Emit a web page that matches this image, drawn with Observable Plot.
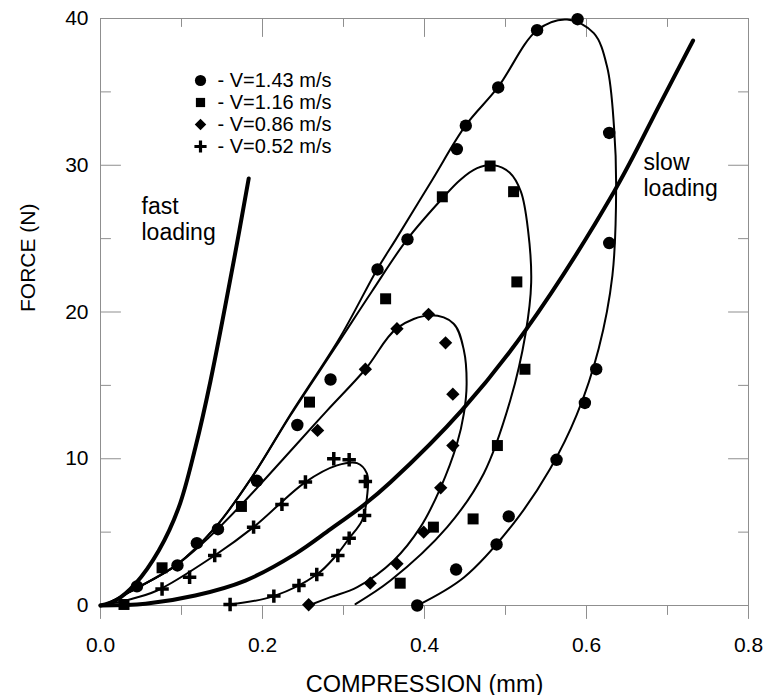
<!DOCTYPE html>
<html><head><meta charset="utf-8">
<script src="https://cdn.jsdelivr.net/npm/d3@7"></script>
<script src="https://cdn.jsdelivr.net/npm/@observablehq/plot@0.6"></script>
<style>html,body{margin:0;padding:0;background:#fff}#chart{width:765px;height:695px}</style>
</head><body><div id="chart"></div>
<script>
// ---------- data ----------
const seriesLabels = ["- V=1.43 m/s", "- V=1.16 m/s", "- V=0.86 m/s", "- V=0.52 m/s"];

// measured points
const v143X = [0.045,0.095,0.119,0.145,0.193,0.243,0.284,0.342,0.379,0.440,0.451,0.491,0.539,0.589,0.628,0.628,0.612,0.598,0.563,0.504,0.489,0.439,0.391];
const v143Y = [1.3,2.73,4.25,5.2,8.5,12.3,15.4,22.9,24.95,31.1,32.7,35.3,39.2,39.95,32.2,24.7,16.1,13.8,9.93,6.07,4.16,2.45,0.0];
const v116X = [0.029,0.076,0.174,0.258,0.352,0.422,0.481,0.510,0.514,0.524,0.490,0.460,0.411,0.370];
const v116Y = [0.07,2.57,6.75,13.86,20.9,27.85,29.95,28.2,22.05,16.1,10.9,5.9,5.34,1.52];
const v086X = [0.257,0.333,0.366,0.399,0.420,0.435,0.435,0.426,0.405,0.366,0.327,0.268];
const v086Y = [0.05,1.52,2.84,5.0,8.02,10.9,14.4,17.9,19.84,18.86,16.1,11.93];
const v052X = [0.076,0.110,0.141,0.189,0.224,0.253,0.288,0.307,0.327,0.326,0.307,0.293,0.267,0.245,0.214,0.160];
const v052Y = [1.13,1.93,3.41,5.34,6.89,8.41,10.0,9.93,8.45,6.14,4.59,3.41,2.11,1.36,0.64,0.07];

// fitted hysteresis loops
const loop143X = [0,0.006,0.043,0.093,0.142,0.187,0.235,0.296,0.3415,0.3646,0.4095,0.4506,0.4905,0.539,0.576,0.609,0.6255,0.634,0.6366,0.632,0.615,0.588,0.555,0.510,0.449,0.391];
const loop143Y = [0,0.07,1.14,2.73,5.34,8.75,13.07,18.3,22.9,24.95,29.0,32.7,35.3,39.2,39.93,39.0,36.7,32.6,28.5,22.5,17.5,13.0,9.3,5.6,1.93,0];
const loop116X = [0,0.006,0.043,0.093,0.142,0.187,0.235,0.29,0.335,0.3786,0.423,0.444,0.465,0.4856,0.505,0.519,0.528,0.5317,0.5247,0.506,0.4732,0.428,0.358,0.3148];
const loop116Y = [0,0.07,1.14,2.73,5.34,8.75,13.0,17.6,21.4,24.95,27.8,29.0,29.8,30.0,29.5,28.2,25.5,22.0,18.5,14.0,9.0,5.34,1.7,0.1];
const loop086X = [0,0.006,0.043,0.093,0.135,0.175,0.2407,0.28,0.327,0.366,0.4074,0.436,0.4486,0.452,0.4486,0.440,0.4198,0.395,0.362,0.317,0.284,0.257];
const loop086Y = [0,0.07,1.14,2.73,4.7,6.93,10.9,13.3,16.1,18.9,19.77,19.2,17.4,15.1,13.07,11.0,8.02,5.34,3.07,1.25,0.57,0];
const loop052X = [0,0.035,0.070,0.141,0.189,0.253,0.292,0.3168,0.329,0.329,0.323,0.3066,0.29,0.267,0.214,0.160];
const loop052Y = [0,0.4,1.02,3.41,5.34,8.41,9.55,9.7,8.98,7.39,5.8,4.55,3.35,2.11,0.64,0.07];

// loading curves
const fastX = [0,0.0185,0.043,0.072,0.0967,0.1173,0.1358,0.1646,0.183];
const fastY = [0,0.34,1.48,3.75,6.7,10.8,15.3,23.5,29.1];
const slowX = [0,0.0556,0.117,0.179,0.2407,0.284,0.325,0.358,0.446,0.5247,0.634,0.691,0.7316];
const slowY = [0,0.12,0.68,1.7,3.52,5.2,6.85,8.4,13.3,18.75,28.2,34.2,38.5];

// axis ticks
const xMajor = [0,0.2,0.4,0.6,0.8];
const xMinor = [0.1,0.3,0.5,0.7];
const yMajor = [0,10,20,30,40];
const yMinor = [5,15,25,35];
const xTitle = "COMPRESSION (mm)";
const yTitle = "FORCE (N)";
const fastLabel = "fast\nloading";
const slowLabel = "slow\nloading";

// ---------- build ----------
const pts = (xs, ys) => xs.map((x, i) => ({x, y: ys[i]}));
const tickShape = {draw(ctx, l) { ctx.moveTo(0, 0); ctx.lineTo(0, -l); }};
const gray = "#8f8f8f";
const tickMarks = (vals, anchor, rotate, len) =>
  Plot.vector(vals, {
    [anchor === "top" || anchor === "bottom" ? "x" : "y"]: d => d,
    frameAnchor: anchor, rotate, length: len, anchor: "start",
    shape: tickShape, stroke: gray, strokeWidth: 1
  });

const symbolSpecs = [
  {symbol: "circle", r: 6.2, fill: "black"},
  {symbol: "square", r: 6.2, fill: "black"},
  {symbol: "diamond2", r: 6, fill: "black"},
  {symbol: "plus", r: 4.4, fill: "none", stroke: "black", strokeWidth: 3.5}
];
const legendSpecs = [
  {symbol: "circle", r: 5.6, fill: "black"},
  {symbol: "square", r: 5.2, fill: "black"},
  {symbol: "diamond2", r: 5.2, fill: "black"},
  {symbol: "plus", r: 4.0, fill: "none", stroke: "black", strokeWidth: 3.2}
];
const measured = [pts(v143X, v143Y), pts(v116X, v116Y), pts(v086X, v086Y), pts(v052X, v052Y)];
const loops = [pts(loop143X, loop143Y), pts(loop116X, loop116Y), pts(loop086X, loop086Y), pts(loop052X, loop052Y)];

const marks = [
  Plot.frame({stroke: gray, strokeWidth: 1}),
  tickMarks(xMajor, "bottom", 180, 13),
  tickMarks(xMinor, "bottom", 180, 9),
  tickMarks(xMajor, "top", 180, 18),
  tickMarks(xMinor, "top", 180, 8),
  tickMarks(yMajor, "left", 90, 20),
  tickMarks(yMinor, "left", 90, 10),
  tickMarks(yMajor, "right", -90, 20),
  tickMarks(yMinor, "right", -90, 10),
  Plot.axisX({ticks: xMajor, tickSize: 0, tickPadding: 32, tickFormat: d => d.toFixed(1), label: null, fontSize: 21}),
  Plot.axisY({ticks: yMajor, tickSize: 0, tickPadding: 12, label: null, fontSize: 21}),
  ...loops.map(l => Plot.line(l, {x: "x", y: "y", curve: "catmull-rom", stroke: "black", strokeWidth: 2})),
  Plot.line(pts(fastX, fastY), {x: "x", y: "y", curve: "catmull-rom", stroke: "black", strokeWidth: 4}),
  Plot.line(pts(slowX, slowY), {x: "x", y: "y", curve: "catmull-rom", stroke: "black", strokeWidth: 4}),
  ...measured.map((m, i) => Plot.dot(m, {x: "x", y: "y", ...symbolSpecs[i]})),
  ...seriesLabels.flatMap((lab, i) => [
    Plot.dot([lab], {frameAnchor: "top-left", dx: 100, dy: 62 + 22 * i, ...legendSpecs[i]}),
    Plot.text([lab], {text: d => d, frameAnchor: "top-left", dx: 117, dy: 62 + 22 * i, textAnchor: "start", lineAnchor: "middle", fontSize: 20, fill: "black"})
  ]),
  Plot.text([fastLabel], {text: d => d, frameAnchor: "top-left", dx: 41, dy: 221, textAnchor: "start", lineAnchor: "bottom", lineHeight: 1.13, fontSize: 23, fill: "black"}),
  Plot.text([slowLabel], {text: d => d, frameAnchor: "top-left", dx: 543, dy: 177, textAnchor: "start", lineAnchor: "bottom", lineHeight: 1.09, fontSize: 23, fill: "black"}),
  Plot.text([xTitle], {text: d => d, frameAnchor: "bottom", dy: 86, lineAnchor: "bottom", fontSize: 23.5, fill: "black"}),
  Plot.text([yTitle], {text: d => d, frameAnchor: "left", dx: -66, rotate: -90, lineAnchor: "bottom", fontSize: 21, fill: "black"})
];

const chart = Plot.plot({
  width: 765, height: 695,
  marginLeft: 100, marginRight: 17, marginTop: 18, marginBottom: 90,
  x: {domain: [0, 0.8]},
  y: {domain: [0, 40]},
  style: {fontFamily: "'Liberation Sans', Arial, sans-serif", background: "white", color: "black"},
  marks
});
document.getElementById("chart").appendChild(chart);
</script></body></html>
